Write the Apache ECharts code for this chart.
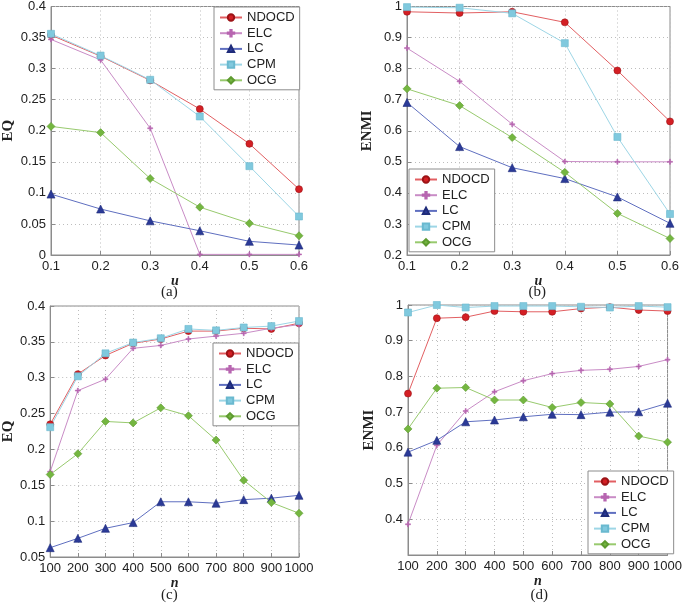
<!DOCTYPE html>
<html><head><meta charset="utf-8">
<script src="https://cdn.jsdelivr.net/npm/echarts@6/dist/echarts.min.js"></script>
<style>html,body{margin:0;padding:0;background:#fff}#c{width:685px;height:606px}</style>
</head><body><div id="c"></div>
<script>
// ---- data ----
const seriesNames = ['NDOCD','ELC','LC','CPM','OCG'];
const uCats = ['0.1','0.2','0.3','0.4','0.5','0.6'];
const nCats = ['100','200','300','400','500','600','700','800','900','1000'];

// (a) EQ vs u
const a_NDOCD = [0.354, 0.320, 0.281, 0.235, 0.179, 0.106];
const a_ELC   = [0.347, 0.314, 0.204, 0.001, 0.001, 0.001];
const a_LC    = [0.098, 0.074, 0.055, 0.039, 0.022, 0.016];
const a_CPM   = [0.356, 0.321, 0.282, 0.223, 0.143, 0.062];
const a_OCG   = [0.207, 0.197, 0.123, 0.077, 0.051, 0.031];

// (b) ENMI vs u
const b_NDOCD = [0.983, 0.979, 0.983, 0.949, 0.794, 0.630];
const b_ELC   = [0.866, 0.759, 0.621, 0.501, 0.500, 0.500];
const b_LC    = [0.691, 0.549, 0.481, 0.446, 0.387, 0.302];
const b_CPM   = [0.998, 0.996, 0.978, 0.882, 0.580, 0.332];
const b_OCG   = [0.735, 0.681, 0.578, 0.466, 0.334, 0.253];

// (c) EQ vs n
const c_NDOCD = [0.235, 0.305, 0.331, 0.348, 0.354, 0.365, 0.365, 0.369, 0.368, 0.376];
const c_ELC   = [0.169, 0.282, 0.298, 0.341, 0.345, 0.354, 0.358, 0.362, 0.369, 0.374];
const c_LC    = [0.063, 0.076, 0.090, 0.098, 0.127, 0.127, 0.125, 0.130, 0.132, 0.136];
const c_CPM   = [0.231, 0.302, 0.334, 0.349, 0.355, 0.368, 0.366, 0.370, 0.372, 0.379];
const c_OCG   = [0.165, 0.194, 0.239, 0.237, 0.258, 0.247, 0.213, 0.157, 0.126, 0.111];

// (d) ENMI vs n
const d_NDOCD = [0.752, 0.963, 0.966, 0.983, 0.981, 0.981, 0.990, 0.994, 0.986, 0.983];
const d_ELC   = [0.386, 0.607, 0.703, 0.757, 0.788, 0.808, 0.817, 0.820, 0.828, 0.847];
const d_LC    = [0.588, 0.621, 0.673, 0.678, 0.687, 0.694, 0.693, 0.700, 0.701, 0.725];
const d_CPM   = [0.979, 1.000, 0.993, 0.997, 0.997, 0.997, 0.995, 0.993, 0.997, 0.994];
const d_OCG   = [0.653, 0.767, 0.769, 0.734, 0.734, 0.713, 0.727, 0.723, 0.633, 0.616];

const panelData = [
  [a_NDOCD, a_ELC, a_LC, a_CPM, a_OCG],
  [b_NDOCD, b_ELC, b_LC, b_CPM, b_OCG],
  [c_NDOCD, c_ELC, c_LC, c_CPM, c_OCG],
  [d_NDOCD, d_ELC, d_LC, d_CPM, d_OCG]
];
const panelLabels = ['(a)','(b)','(c)','(d)'];
const yNames = ['EQ','ENMI','EQ','ENMI'];
const xNames = ['u','u','n','n'];

// ---- styles ----
const plusPath = 'path://M4,0L6,0L6,4L10,4L10,6L6,6L6,10L4,10L4,6L0,6L0,4L4,4Z';
const styles = {
  NDOCD: {line:'#e25f62', fill:'#d41f24', border:'#9c1316', symbol:'circle', size:7},
  ELC:   {line:'#c98cc6', fill:'#b765b0', border:'#b765b0', symbol:plusPath, size:5},
  LC:    {line:'#5f6fc0', fill:'#2b3a97', border:'#1f2c7a', symbol:'triangle', size:8},
  CPM:   {line:'#9dd6e6', fill:'#80c9de', border:'#6ab9cf', symbol:'rect', size:7},
  OCG:   {line:'#98ca6e', fill:'#74b640', border:'#5e9a30', symbol:'diamond', size:8}
};

const grids = [
  {left:43, top:5, width:256, height:250},
  {left:407, top:4, width:263, height:251},
  {left:43, top:306, width:256, height:251},
  {left:408, top:305, width:265, height:250}
];
const yRanges = [
  {min:0, max:0.4, interval:0.05},
  {min:0.2, max:1, interval:0.1},
  {min:0.05, max:0.4, interval:0.05},
  {min:0.3, max:1, interval:0.1, hideMin:true}
];
const xNameGaps = [11, 11, 11, 13];
const yNameGaps = [35, 32, 34, 31];

const tickFont = {fontFamily:'Liberation Sans', fontSize:13, color:'#222'};
const gridColor = '#8c8c8c';

const option = {
  animation:false,
  backgroundColor:'#fff',
  grid: grids.map(g => Object.assign({show:true, borderColor:gridColor, borderWidth:1, backgroundColor:'#fff'}, g)),
  xAxis: grids.map((g,i) => ({
    type:'category', gridIndex:i, data: i<2 ? uCats : nCats, boundaryGap:false,
    name: xNames[i], nameLocation:'middle', nameGap:xNameGaps[i],
    nameTextStyle:{fontFamily:'Liberation Serif', fontStyle:'italic', fontWeight:'bold', fontSize:14, color:'#222'},
    axisLine:{lineStyle:{color:gridColor}},
    axisTick:{inside:true, length:4, lineStyle:{color:gridColor}},
    axisLabel:Object.assign({margin:5, interval:0}, tickFont),
    splitLine:{show:true, lineStyle:{type:[1,3], color:'#bdbdbd'}}
  })),
  yAxis: grids.map((g,i) => ({
    type:'value', gridIndex:i, min:yRanges[i].min, max:yRanges[i].max, interval:yRanges[i].interval,
    name: yNames[i], nameLocation:'middle', nameGap:yNameGaps[i],
    nameTextStyle:{fontFamily:'Liberation Serif', fontWeight:'bold', fontSize:15, color:'#222'},
    axisLine:{show:true, lineStyle:{color:gridColor}},
    axisTick:{show:true, inside:true, length:4, lineStyle:{color:gridColor}},
    axisLabel:Object.assign({margin:5, showMinLabel: !yRanges[i].hideMin}, tickFont),
    splitLine:{show:true, lineStyle:{type:[1,3], color:'#bdbdbd'}}
  })),
  legend: [
    {left:214, top:7},
    {left:409, top:169},
    {left:213, top:343},
    {left:588, top:471}
  ].map(p => Object.assign({
    orient:'vertical', data:seriesNames, itemWidth:22, itemHeight:8, itemGap:0.7,
    padding:[3,5,2,5], backgroundColor:'#fff', borderColor:'#8c8c8c', borderWidth:1, borderRadius:0,
    textStyle:{fontFamily:'Liberation Sans', fontSize:13, color:'#222', lineHeight:15},
    selectedMode:false
  }, p)),
  series: [],
  graphic: []
};

panelData.forEach((arrs, gi) => {
  arrs.forEach((vals, si) => {
    const nm = seriesNames[si];
    const st = styles[nm];
    option.series.push({
      type:'line', name:nm, xAxisIndex:gi, yAxisIndex:gi, data:vals,
      symbol:st.symbol, symbolSize:st.size, showAllSymbol:true, clip:false,
      lineStyle:{color:st.line, width:1},
      itemStyle:{color:st.fill, borderColor:st.border, borderWidth:0.6},
      emphasis:{disabled:true}
    });
  });
  const g = grids[gi];
  option.graphic.push({
    type:'text', left: g.left + g.width/2 - 10, top: gi<2 ? 285 : 588,
    style:{text:panelLabels[gi], font:'15px "Liberation Serif"', fill:'#222'}
  });
});

const chart = echarts.init(document.getElementById('c'), null, {renderer:'canvas'});
chart.setOption(option);
</script>
</body></html>
